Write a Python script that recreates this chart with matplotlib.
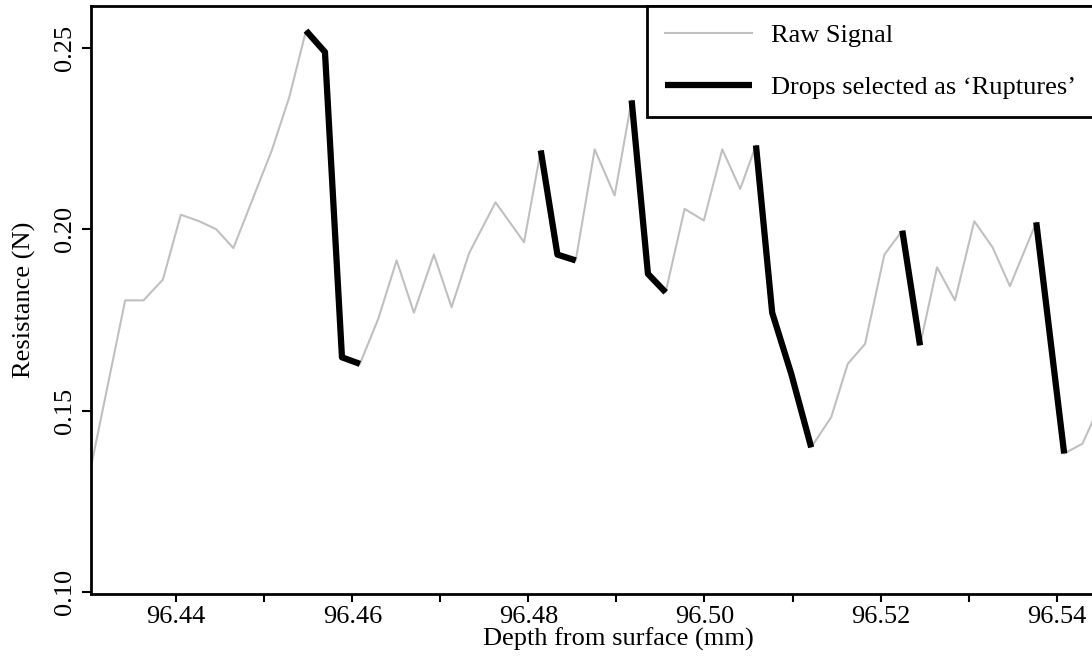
from matplotlib import pyplot as plt
from matplotlib.ticker import MultipleLocator

# depth (mm) and resistance (N) of the raw signal
depth = [96.4302, 96.43421, 96.43629, 96.43849, 96.44053, 96.44261, 96.44454, 96.4465,
         96.44854, 96.45086, 96.45285, 96.45475, 96.4569, 96.45883, 96.46087, 96.46295,
         96.46504, 96.467, 96.46927, 96.47128, 96.47327, 96.47627, 96.47951, 96.48141,
         96.4833, 96.48538, 96.48753, 96.4898, 96.49173, 96.49358, 96.49559, 96.49774,
         96.49993, 96.50202, 96.50406, 96.50585, 96.50769, 96.50985, 96.51212, 96.51439,
         96.51627, 96.51824, 96.52043, 96.52247, 96.52448, 96.52641, 96.52845, 96.53064,
         96.53272, 96.53469, 96.53768, 96.54085, 96.54293, 96.54493, 96.5470]
resistance = [0.1330, 0.1804, 0.1804, 0.1861, 0.2040, 0.2022, 0.2000, 0.1948,
              0.2074, 0.2217, 0.2364, 0.2547, 0.2488, 0.1647, 0.1629, 0.1753,
              0.1914, 0.1770, 0.1930, 0.1785, 0.1934, 0.2074, 0.1964, 0.2217,
              0.1930, 0.1914, 0.2220, 0.2093, 0.2355, 0.1877, 0.1826, 0.2056,
              0.2024, 0.2220, 0.2111, 0.2231, 0.1770, 0.1602, 0.1399, 0.1482,
              0.1629, 0.1684, 0.1930, 0.1996, 0.1680, 0.1895, 0.1804, 0.2022,
              0.1950, 0.1843, 0.2019, 0.1382, 0.1409, 0.1517, 0.1600]

# ruptures : (first index, last index) into the raw signal
ruptures = [(11, 14), (23, 25), (28, 30), (35, 38), (43, 44), (50, 51)]

plt.rcParams['font.family'] = ['Liberation Serif', 'DejaVu Serif']
plt.rcParams['font.size'] = 19

fig = plt.figure(figsize=(10.92, 6.58), dpi=100)
# axes run past the right edge of the picture (original was cropped)
ax = fig.add_axes([0.0831, 0.0973, 0.966, 0.8936])

ax.plot(depth, resistance, color='#c0c0c0', linewidth=1.5, label='Raw Signal')
for i, (a, b) in enumerate(ruptures):
    ax.plot(depth[a:b + 1], resistance[a:b + 1], color='black', linewidth=4.5,
            solid_capstyle='butt',
            label='Drops selected as \u2018Ruptures\u2019' if i == 0 else None)

ax.set_xlim(96.4303, 96.5501)
ax.set_ylim(0.0995, 0.2615)

ax.xaxis.set_major_locator(MultipleLocator(0.02))
ax.xaxis.set_minor_locator(MultipleLocator(0.01))
ax.yaxis.set_major_locator(MultipleLocator(0.05))
ax.xaxis.set_major_formatter(plt.FormatStrFormatter('%.2f'))
ax.yaxis.set_major_formatter(plt.FormatStrFormatter('%.2f'))

ax.tick_params(axis='x', which='both', length=5.5, width=1.5, pad=3)
ax.tick_params(axis='y', length=6.5, width=1.5, pad=4, labelrotation=90)
plt.setp(ax.get_yticklabels(), va='center')
for s in ax.spines.values():
    s.set_linewidth(2)

ax.set_xlabel('Depth from surface (mm)', labelpad=0)
ax.set_ylabel('Resistance (N)', labelpad=13)

leg = ax.legend(loc='upper left', bbox_to_anchor=(0.5274, 1.0), borderaxespad=0,
                handlelength=3.3, handletextpad=0.72, labelspacing=1.1,
                borderpad=0.66, fancybox=False, framealpha=1, edgecolor='black')
leg.get_frame().set_linewidth(2)

plt.savefig('out.png', dpi=100)
